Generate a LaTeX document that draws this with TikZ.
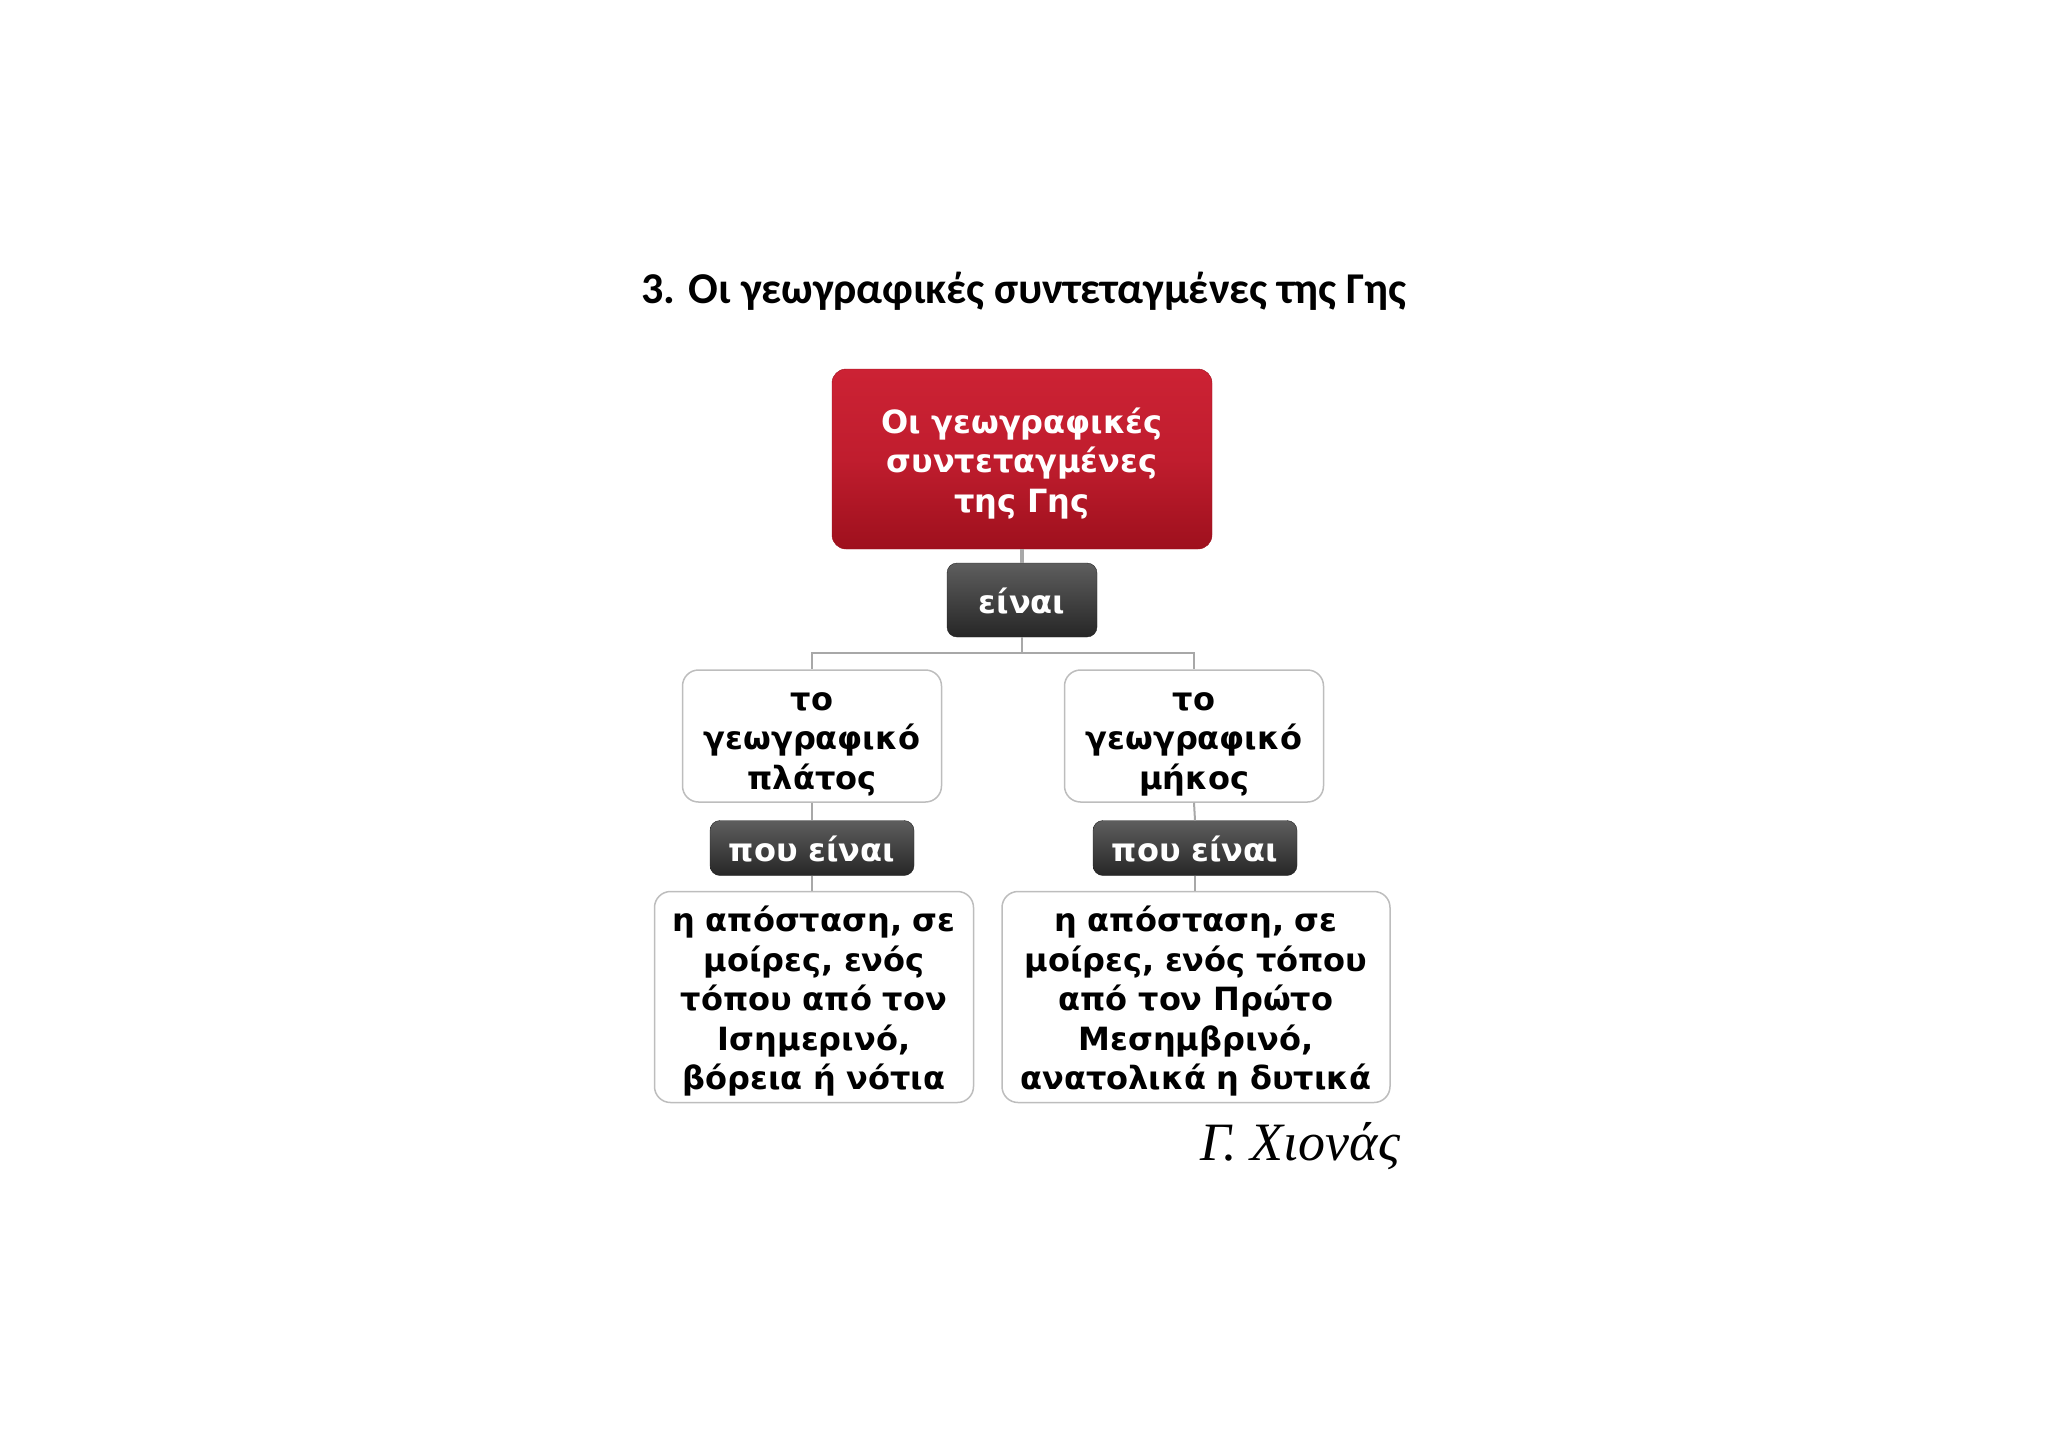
\documentclass[tikz,border=0pt]{standalone}
\usepackage{fontspec}
\setmainfont{DejaVu Sans}
\newfontfamily\titlefont{Carlito}
\newfontfamily\signfont{Liberation Serif}
\usetikzlibrary{positioning}

\definecolor{redtop}{HTML}{CC2234}
\definecolor{redmid}{HTML}{C01D2E}
\definecolor{redbot}{HTML}{9E101D}
\definecolor{darktop}{HTML}{5E5E5E}
\definecolor{darkbot}{HTML}{262626}
\definecolor{edgegray}{HTML}{BDBDBD}
\definecolor{linkgray}{HTML}{A8A8A8}

\tikzset{
  boxtext/.style={font=\fontsize{32}{39.5}\selectfont\bfseries, align=center, inner sep=0pt,
    execute at begin node={\rule{0pt}{39pt}}, execute at end node={\rule[-12pt]{0pt}{12pt}}},
  boxsize/.style n args={3}{minimum width=#1, text width=#2, minimum height=#3},
  rootbox/.style={boxtext, rounded corners=14pt, top color=redtop, bottom color=redbot, middle color=redmid,
    draw=redbot, text=white},
  verbbox/.style={boxtext, rounded corners=10pt, top color=darktop, bottom color=darkbot, draw=darkbot, text=white},
  topicbox/.style={boxtext, rounded corners=16pt, draw=edgegray, line width=1.5pt, fill=white},
  link/.style={draw=linkgray, line width=2pt},
}

\begin{document}
\begin{tikzpicture}[x=1pt, y=-1pt]
      \useasboundingbox (0,0) rectangle (2048,1448);

      \node [font=\titlefont\fontsize{44}{53}\selectfont\bfseries] (title) at (1024,291)
        {3. Οι γεωγραφικές συντεταγμένες της Γης};

      \node [rootbox, boxsize={380pt}{360pt}{180pt}] (root) at (1022,459)
        {Οι γεωγραφικές\\συντεταγμένες\\της Γης};
      \node [verbbox, boxsize={150pt}{130pt}{74pt}] (eivai) at (1022,600) {είναι};

      \node [topicbox, boxsize={259pt}{240pt}{132pt}] (platos) at (812,736)
        {το\\γεωγραφικό\\πλάτος};
      \node [topicbox, boxsize={259pt}{240pt}{132pt}] (mikos) at (1194,736)
        {το\\γεωγραφικό\\μήκος};

      \node [verbbox, boxsize={204pt}{190pt}{55pt}] (pouA) at (812,848) {που είναι};
      \node [verbbox, boxsize={204pt}{190pt}{55pt}] (pouB) at (1195,848) {που είναι};

      \node [topicbox, boxsize={319pt}{305pt}{211pt}] (defA) at (814,997)
        {η απόσταση, σε\\μοίρες, ενός\\τόπου από τον\\Ισημερινό,\\βόρεια ή νότια};
      \node [topicbox, boxsize={388pt}{375pt}{211pt}] (defB) at (1196,997)
        {η απόσταση, σε\\μοίρες, ενός τόπου\\από τον Πρώτο\\Μεσημβρινό,\\ανατολικά η δυτικά};

      \node [font=\signfont\itshape\fontsize{54}{60}\selectfont] (sign) at (1300,1146) {Γ. Χιονάς};

      % connectors
      \draw [link, line width=4pt] (root.south) -- (eivai.north);
      \draw [link] (eivai.south) -- ++(0,16) -| (platos.north);
      \draw [link] (eivai.south) -- ++(0,16) -| (mikos.north);
      \draw [link] (platos.south) -- (pouA.north);
      \draw [link] (mikos.south) -- (pouB.north);
      \draw [link] (pouA.south) -- (defA.north -| pouA.south);
      \draw [link] (pouB.south) -- (defB.north -| pouB.south);
    \end{tikzpicture}
\end{document}
